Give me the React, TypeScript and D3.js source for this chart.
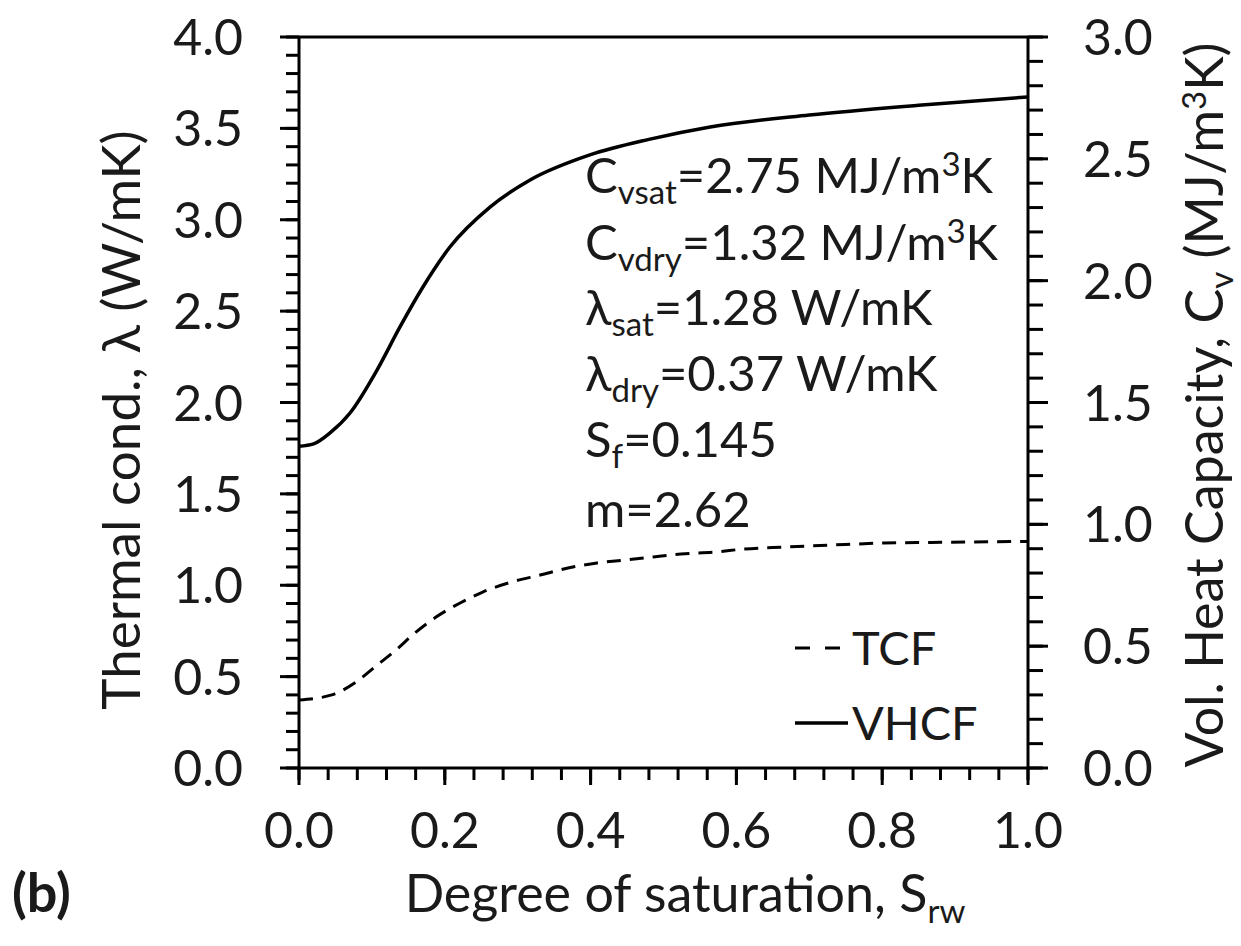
import React from "react";
import * as d3 from "d3";

const satVHCF = [0, 0.02, 0.0425, 0.07, 0.107, 0.1385, 0.17, 0.207, 0.262, 0.317, 0.399, 0.48, 0.564, 0.7, 0.85, 1.0];
const cvVHCF = [1.32, 1.33, 1.375, 1.457, 1.633, 1.81, 1.974, 2.138, 2.302, 2.413, 2.516, 2.58, 2.631, 2.68, 2.72, 2.754];

const satTCF = [0, 0.045, 0.078, 0.104, 0.133, 0.159, 0.188, 0.221, 0.252, 0.292, 0.331, 0.369, 0.409, 0.447, 0.486, 0.524, 0.571, 0.61, 0.667, 0.731, 0.802, 0.88, 1.0];
const lamTCF = [0.372, 0.4, 0.47, 0.553, 0.646, 0.739, 0.826, 0.903, 0.963, 1.018, 1.056, 1.094, 1.122, 1.138, 1.155, 1.171, 1.182, 1.198, 1.209, 1.22, 1.231, 1.235, 1.24];

const xMajor = [0, 0.2, 0.4, 0.6, 0.8, 1.0];
const yLeftMajor = [0, 0.5, 1, 1.5, 2, 2.5, 3, 3.5, 4];
const yRightMajor = [0, 0.5, 1, 1.5, 2, 2.5, 3];

const W = 1241, H = 946;
const L = 299, R = 1028, T = 37, B = 768;
const FONT = "Lato, 'Open Sans', sans-serif";

export default function App() {
  const x = d3.scaleLinear().domain([0, 1]).range([L, R]);
  const yL = d3.scaleLinear().domain([0, 4]).range([B, T]);
  const yR = d3.scaleLinear().domain([0, 3]).range([B, T]);

  const xMinor = d3.range(0, 1.0001, 0.04);
  const yLMinor = d3.range(0, 4.0001, 0.1);
  const yRMinor = d3.range(0, 3.0001, 0.1);

  const lineV = d3.line<number>().x((_, i) => x(satVHCF[i])).y((d) => yR(d)).curve(d3.curveMonotoneX);
  const lineT = d3.line<number>().x((_, i) => x(satTCF[i])).y((d) => yL(d)).curve(d3.curveMonotoneX);

  const sw = 3;
  const tickFs = 50;
  const titleFs = 52;
  const annFs = 49;
  const subFs = 33;
  const fill = "#1a1a1a";

  const annX = 585;
  const ann = [
    { main: "C", sub: "vsat", rest: "=2.75 MJ/m", sup: "3", tail: "K", y: 193 },
    { main: "C", sub: "vdry", rest: "=1.32 MJ/m", sup: "3", tail: "K", y: 260 },
    { main: "λ", sub: "sat", rest: "=1.28 W/mK", sup: "", tail: "", y: 325 },
    { main: "λ", sub: "dry", rest: "=0.37 W/mK", sup: "", tail: "", y: 391 },
    { main: "S", sub: "f", rest: "=0.145", sup: "", tail: "", y: 457 },
    { main: "m=2.62", sub: "", rest: "", sup: "", tail: "", y: 527 },
  ];

  return (
    <svg width={W} height={H} style={{ display: "block", position: "absolute", left: 0, top: 0, background: "#fff" }} fontFamily={FONT}>
      <rect x={0} y={0} width={W} height={H} fill="#fff" />
      <g stroke="#000" strokeWidth={sw} fill="none">
        <line x1={L} y1={T} x2={R} y2={T} />
        <line x1={L} y1={B} x2={R} y2={B} />
        <line x1={L} y1={T} x2={L} y2={B} />
        <line x1={R} y1={T} x2={R} y2={B} />
      </g>
      <g stroke="#000" strokeWidth={sw}>
        {yLMinor.map((v, i) => (
          <line key={"lm" + i} x1={L - 13} x2={L} y1={yL(v)} y2={yL(v)} />
        ))}
        {yLeftMajor.map((v, i) => (
          <line key={"lM" + i} x1={L - 19} x2={L} y1={yL(v)} y2={yL(v)} />
        ))}
        {yRMinor.map((v, i) => (
          <line key={"rm" + i} x1={R} x2={R + 15} y1={yR(v)} y2={yR(v)} />
        ))}
        {yRightMajor.map((v, i) => (
          <line key={"rM" + i} x1={R} x2={R + 20} y1={yR(v)} y2={yR(v)} />
        ))}
        {xMinor.map((v, i) => (
          <line key={"xm" + i} x1={x(v)} x2={x(v)} y1={B} y2={B + 12} />
        ))}
        {xMajor.map((v, i) => (
          <line key={"xM" + i} x1={x(v)} x2={x(v)} y1={B} y2={B + 17} />
        ))}
      </g>
      <g fontSize={tickFs} fill={fill}>
        {yLeftMajor.map((v, i) => (
          <text key={"tl" + i} x={243} y={yL(v)} dy="0.36em" textAnchor="end">{d3.format(".1f")(v)}</text>
        ))}
        {yRightMajor.map((v, i) => (
          <text key={"tr" + i} x={1083} y={yR(v)} dy="0.36em" textAnchor="start">{d3.format(".1f")(v)}</text>
        ))}
        {xMajor.map((v, i) => (
          <text key={"tx" + i} x={x(v)} y={848} textAnchor="middle">{d3.format(".1f")(v)}</text>
        ))}
      </g>
      <path d={lineV(cvVHCF) || ""} fill="none" stroke="#000" strokeWidth={3.5} />
      <path d={lineT(lamTCF) || ""} fill="none" stroke="#000" strokeWidth={3} strokeDasharray="14 9" />
      <g fontSize={annFs} fill={fill}>
        {ann.map((a, i) => (
          <text key={"a" + i} x={annX} y={a.y}>
            {a.main}
            {a.sub && <tspan fontSize={subFs} dy={11}>{a.sub}</tspan>}
            {a.sub && <tspan dy={-11}>{a.rest}</tspan>}
            {a.sup && <tspan fontSize={subFs} dy={-17}>{a.sup}</tspan>}
            {a.sup && <tspan dy={17}>{a.tail}</tspan>}
          </text>
        ))}
      </g>
      <g>
        <line x1={795} x2={840} y1={648} y2={648} stroke="#000" strokeWidth={3} strokeDasharray="15 15" />
        <text x={852} y={648} dy="0.36em" fontSize={47} fill={fill}>TCF</text>
        <line x1={795} x2={848} y1={723} y2={723} stroke="#000" strokeWidth={3.5} />
        <text x={852} y={723} dy="0.36em" fontSize={47} fill={fill}>VHCF</text>
      </g>
      <text x={685} y={912} textAnchor="middle" fontSize={titleFs} fill={fill}>
        Degree of saturation, S<tspan fontSize={subFs} dy={11}>rw</tspan>
      </text>
      <text transform={`translate(140, 420) rotate(-90)`} textAnchor="middle" fontSize={53} fill={fill}>
        Thermal cond., λ (W/mK)
      </text>
      <text transform={`translate(1223, 405) rotate(-90)`} textAnchor="middle" fontSize={52} fill={fill}>
        Vol. Heat Capacity, C<tspan fontSize={subFs} dy={10}>v</tspan><tspan dy={-10}> (MJ/m</tspan><tspan fontSize={subFs} dy={-17}>3</tspan><tspan dy={17}>K)</tspan>
      </text>
      <text x={12} y={912} fontSize={54} fontWeight="bold" fill={fill}>(b)</text>
    </svg>
  );
}
